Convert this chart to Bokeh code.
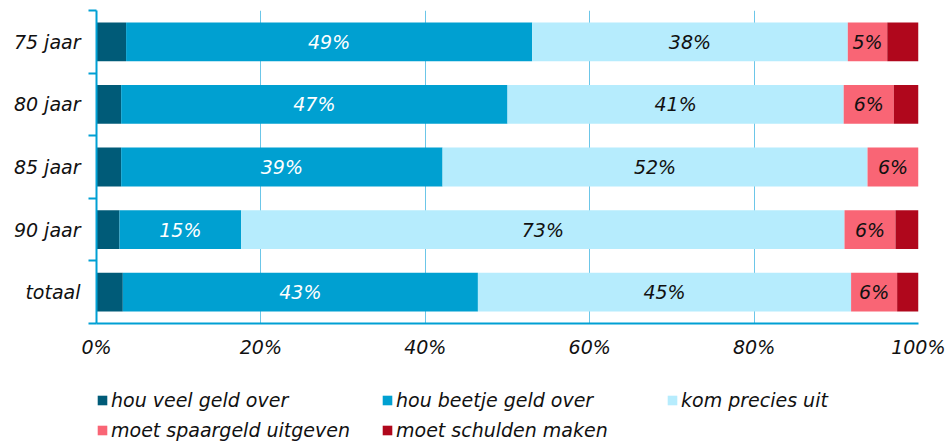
import numpy as np
from bokeh.plotting import figure
from bokeh.layouts import column
from bokeh.models import (Range1d, FixedTicker, Legend, LegendItem, ColumnDataSource,
                          PrintfTickFormatter)
from bokeh.core.properties import value
from bokeh.embed import file_html
from bokeh.resources import INLINE

# ---- data ----
categories = ["75 jaar", "80 jaar", "85 jaar", "90 jaar", "totaal"]
series = ["hou veel geld over", "hou beetje geld over", "kom precies uit",
          "moet spaargeld uitgeven", "moet schulden maken"]
veel_over = [3.6, 3.0, 3.0, 2.8, 3.2]
beetje_over = [49.4, 47.0, 39.1, 14.8, 43.2]
precies_uit = [38.4, 40.9, 51.7, 73.4, 45.4]
spaargeld = [4.8, 6.1, 6.2, 6.2, 5.6]
schulden = [3.8, 3.0, 0.0, 2.8, 2.6]
x_ticks = [0, 20, 40, 60, 80, 100]

colors = ["#005B78", "#00A0D1", "#B6ECFD", "#F96575", "#B0071C"]
label_colors = [None, "white", "#111111", "#111111", None]
FONT = "DejaVu Sans"
FS = "19px"
AXIS_BLUE = "#00A0D4"

n = len(categories)
ypos = [n - 0.5 - i for i in range(n)]
keys = ["s0", "s1", "s2", "s3", "s4"]
vals = [veel_over, beetje_over, precies_uit, spaargeld, schulden]
data = {"y": ypos}
for k, v in zip(keys, vals):
    data[k] = v
source = ColumnDataSource(data)

p = figure(width=945, height=360, output_backend="svg", toolbar_location=None,
           x_range=Range1d(0, 100), y_range=Range1d(0, n),
           min_border_left=96, min_border_right=27, min_border_top=10,
           min_border_bottom=35)
p.outline_line_color = None
p.background_fill_color = "white"

renderers = p.hbar_stack(keys, y="y", height=0.62, color=colors, source=source,
                         line_color=None)

# segment labels
arr = np.array(vals)
cum = np.cumsum(arr, axis=0)
starts = cum - arr
for i in range(len(keys)):
    if label_colors[i] is None:
        continue
    centers = (starts[i] + cum[i]) / 2.0
    texts = ["%d%%" % int(round(v)) for v in vals[i]]
    lsrc = ColumnDataSource(dict(x=list(centers), y=ypos, t=texts))
    p.text(x="x", y="y", text="t", source=lsrc, text_align="center",
           text_baseline="middle", text_font=value(FONT), text_font_style="italic",
           text_font_size=FS, text_color=label_colors[i])

# axes
xa = p.xaxis[0]
xa.ticker = FixedTicker(ticks=x_ticks)
xa.formatter = PrintfTickFormatter(format="%d%%")
xa.axis_line_color = AXIS_BLUE
xa.axis_line_width = 2
xa.major_tick_out = 0
xa.major_tick_in = 0
xa.minor_tick_line_color = None
xa.major_label_standoff = 12
xa.major_label_text_font = FONT
xa.major_label_text_font_style = "italic"
xa.major_label_text_font_size = FS
xa.major_label_text_color = "#111111"

ya = p.yaxis[0]
ya.ticker = FixedTicker(ticks=ypos, minor_ticks=list(range(n + 1)))
ya.major_label_overrides = {yv: c for yv, c in zip(ypos, categories)}
ya.axis_line_color = AXIS_BLUE
ya.axis_line_width = 2
ya.major_tick_line_color = None
ya.major_tick_out = 0
ya.major_tick_in = 0
ya.minor_tick_line_color = AXIS_BLUE
ya.minor_tick_line_width = 2
ya.minor_tick_out = 8
ya.minor_tick_in = 0
ya.major_label_standoff = 8
ya.major_label_text_font = FONT
ya.major_label_text_font_style = "italic"
ya.major_label_text_font_size = FS
ya.major_label_text_color = "#111111"

p.xgrid.ticker = FixedTicker(ticks=x_ticks)
p.xgrid.grid_line_color = "#6CC6E8"
p.xgrid.grid_line_width = 1
p.ygrid.grid_line_color = None

# ---- legend figure ----
lf = figure(width=945, height=83, output_backend="svg", toolbar_location=None,
            x_range=Range1d(0, 1), y_range=Range1d(0, 1),
            x_axis_location=None, y_axis_location=None,
            min_border_left=0, min_border_right=0, min_border_top=0, min_border_bottom=0)
lf.grid.visible = False
lf.outline_line_color = None
dummies = [lf.quad(left=[5], right=[6], top=[6], bottom=[5], color=c, line_color=None)
           for c in colors]

legend = Legend(items=[LegendItem(label=s, renderers=[r]) for s, r in zip(series, dummies)],
                ncols=3, location=(0, 0), orientation="horizontal")
legend.glyph_width = 12
legend.glyph_height = 12
legend.label_standoff = 3
legend.label_width = 267
legend.label_height = 27
legend.spacing = 3
legend.padding = 0
legend.margin = 0
legend.border_line_color = None
legend.background_fill_alpha = 0
legend.label_text_font = FONT
legend.label_text_font_style = "italic"
legend.label_text_font_size = FS
legend.label_text_color = "#111111"
lf.add_layout(legend, "center")

layout = column(p, lf, spacing=0)
open("out.html", "w").write(file_html(layout, INLINE))
